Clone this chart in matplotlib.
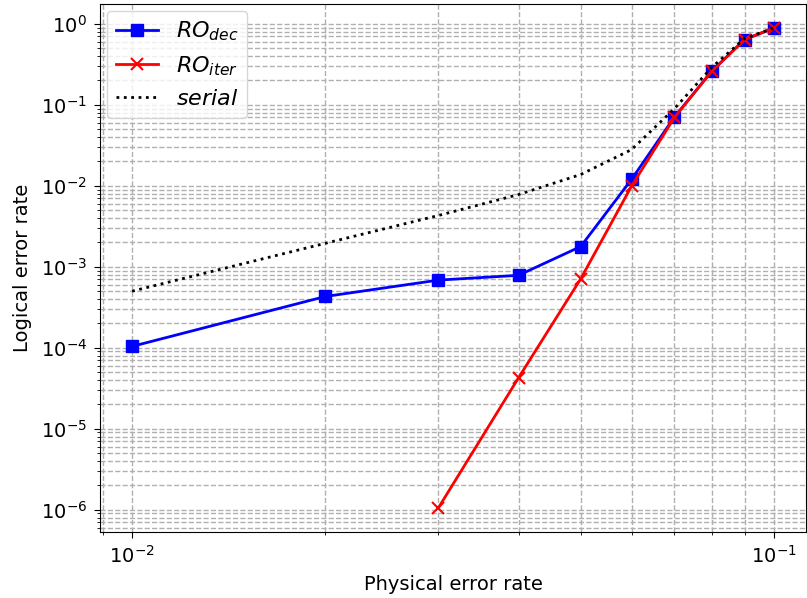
import matplotlib
matplotlib.use("Agg")
import matplotlib.pyplot as plt

p = [0.01, 0.02, 0.03, 0.04, 0.05, 0.06, 0.07, 0.08, 0.09, 0.10]
ro_dec = [1.04e-4, 4.3e-4, 6.85e-4, 7.85e-4, 1.78e-3, 1.2e-2, 7.1e-2, 0.26, 0.64, 0.89]
p_iter = [0.03, 0.04, 0.05, 0.06, 0.07, 0.08, 0.09, 0.10]
ro_iter = [1.05e-6, 4.25e-5, 7.1e-4, 9.9e-3, 7.0e-2, 0.26, 0.64, 0.89]
serial = [5.0e-4, 1.95e-3, 4.3e-3, 7.8e-3, 1.38e-2, 2.8e-2, 9.0e-2, 0.29, 0.66, 0.89]

fig = plt.figure(figsize=(8.07, 5.98), dpi=100)
W, H = 807, 598
l, r, t, b = 100, 806, 4, 532
ax = fig.add_axes([l / W, 1 - b / H, (r - l) / W, (b - t) / H])

ax.plot(p, ro_dec, color='blue', marker='s', markersize=9, linewidth=2, label=r'$RO_{dec}$')
ax.plot(p_iter, ro_iter, color='red', marker='x', markersize=9, markeredgewidth=1.5,
        linewidth=2, label=r'$RO_{iter}$')
ax.plot(p, serial, color='black', linestyle=':', linewidth=2, label=r'$serial$')

ax.set_xscale('log')
ax.set_yscale('log')
ax.grid(True, which='both', linestyle='--', color='#b0b0b0', linewidth=1)
ax.set_xlabel('Physical error rate', fontsize=14, labelpad=6)
ax.set_ylabel('Logical error rate', fontsize=14, labelpad=6)
ax.tick_params(which='major', labelsize=14, length=4.5, pad=5)
ax.tick_params(which='minor', length=2.5)
ax.legend(loc='upper left', fontsize=16, borderaxespad=0.3, handlelength=1.9)

fig.savefig('out.png', dpi=100)
